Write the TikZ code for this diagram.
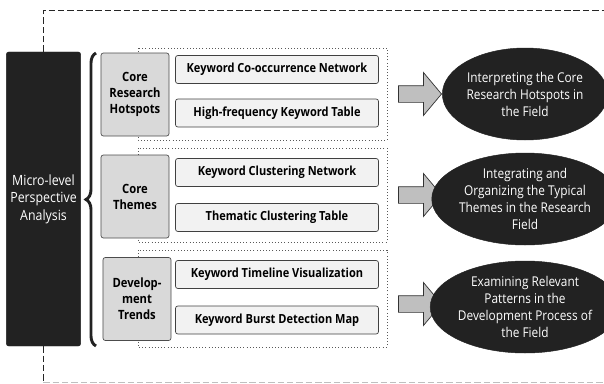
\documentclass[tikz,border=0pt]{standalone}
\usepackage{fontspec}
\setmainfont{Open Sans}[FakeStretch=0.88]
\usetikzlibrary{shapes.geometric,shapes.arrows,decorations.pathreplacing}

\definecolor{inkdark}{HTML}{222222}
\definecolor{catgray}{HTML}{D9D9D9}
\definecolor{itemgray}{HTML}{F2F2F2}
\definecolor{arrowgray}{HTML}{BFBFBF}

\begin{document}
\begin{tikzpicture}[x=0.03cm,y=-0.03cm,
    every node/.style={font=\fontsize{11.5}{14.5}\selectfont, align=center},
    frame/.style={dash pattern=on 5.5pt off 2.5pt, line width=0.8pt, black!85},
    grp/.style={dotted, line width=0.7pt, black!65},
    micro/.style={draw=inkdark, fill=inkdark, rounded corners=2pt, text=white,
        minimum width=2.19cm, minimum height=8.82cm, font=\fontsize{12}{15}\selectfont},
    cat/.style={draw=black!70, fill=catgray, rounded corners=2pt, line width=0.6pt,
        minimum width=2.04cm, minimum height=2.49cm, inner sep=1pt,
        font=\fontsize{10.9}{13.6}\selectfont\bfseries},
    item/.style={draw=black!75, fill=itemgray, rounded corners=2pt, line width=0.6pt,
        minimum width=6.09cm, minimum height=0.84cm,
        font=\fontsize{10.7}{13.6}\selectfont\bfseries},
    barrow/.style={single arrow, draw=black!80, fill=arrowgray, line width=0.6pt,
        minimum height=1.29cm, inner xsep=0pt, inner ysep=0.24cm,
        single arrow head extend=0.39cm, single arrow tip angle=100},
    goal/.style={ellipse, draw=inkdark, fill=inkdark, text=white, inner sep=0pt,
        minimum width=4.62cm, minimum height=2.76cm}]
  \useasboundingbox (0,0) rectangle (604,383);

  % outer frame
  \coordinate (ftop) at (604,10);
  \coordinate (fbot) at (604,382);

  % dotted groups
  \draw[grp] (138,48) rectangle (387,140);
  \draw[grp] (138,148) rectangle (387,242);
  \draw[grp] (138,250) rectangle (387,347);

  \node[micro] (micro) at (43.5,199) {Micro-level\\Perspective\\Analysis};

  \draw[frame] (micro.north) |- (ftop);
  \draw[frame] (micro.south) -- ++(0,36);
  \draw[frame, black!25] (micro.south) ++(0,36) |- (fbot);

  % brace
  \draw[inkdark, line width=2.5pt,
        decorate, decoration={brace, amplitude=0.3cm}] (96,346) -- (96,53);

  \node[cat] (hot) at (135,94.5) {Core\\Research\\Hotspots};
  \node[cat] (theme) at (135,196.5) {Core\\Themes};
  \node[cat] (trend) at (137,299) {Develop-\\ment\\Trends};

  \node[item] (hot1) at (277,69.5) {Keyword Co-occurrence Network};
  \node[item] (hot2) at (277,113) {High-frequency Keyword Table};
  \node[item] (theme1) at (277,172.5) {Keyword Clustering Network};
  \node[item] (theme2) at (277,217.5) {Thematic Clustering Table};
  \node[item] (trend1) at (277,274.5) {Keyword Timeline Visualization};
  \node[item] (trend2) at (277,320) {Keyword Burst Detection Map};

  \node[barrow] (a1) at (416.5,94) {};
  \node[barrow] (a2) at (416.5,195) {};
  \node[barrow] (a3) at (416.5,304) {};

  \node[goal] (g1) at (525,94) {Interpreting the Core\\Research Hotspots in\\the Field};
  \node[goal] (g2) at (525,199) {Integrating and\\Organizing the Typical\\Themes in the Research\\Field};
  \node[goal] (g3) at (525,307) {Examining Relevant\\Patterns in the\\Development Process of\\the Field};
\end{tikzpicture}
\end{document}
